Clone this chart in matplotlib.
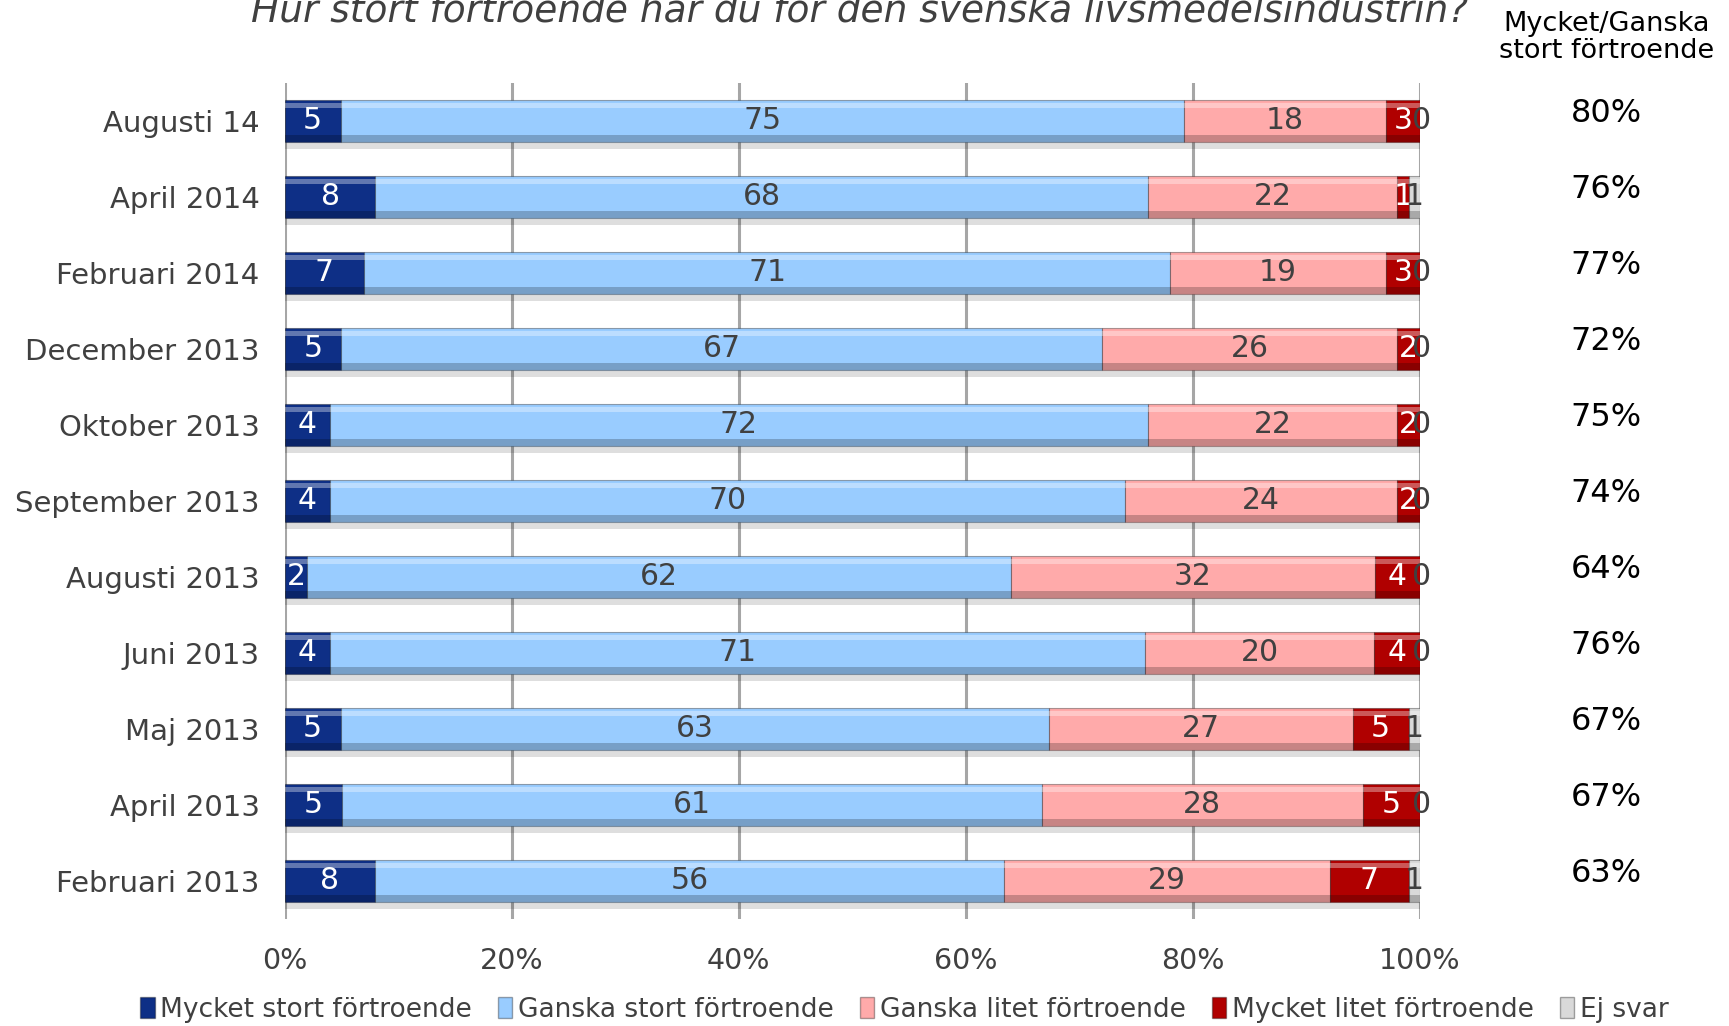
import numpy as np
import matplotlib
matplotlib.use('Agg')
import matplotlib.pyplot as plt
from matplotlib.patches import Patch

# Survey rows, top to bottom as shown
periods = ['Augusti 14', 'April 2014', 'Februari 2014', 'December 2013', 'Oktober 2013',
           'September 2013', 'Augusti 2013', 'Juni 2013', 'Maj 2013', 'April 2013',
           'Februari 2013']

mycket_stort = [5, 8, 7, 5, 4, 4, 2, 4, 5, 5, 8]
ganska_stort = [75, 68, 71, 67, 72, 70, 62, 71, 63, 61, 56]
ganska_litet = [18, 22, 19, 26, 22, 24, 32, 20, 27, 28, 29]
mycket_litet = [3, 1, 3, 2, 2, 2, 4, 4, 5, 5, 7]
ej_svar = [0, 1, 0, 0, 0, 0, 0, 0, 1, 0, 1]

totals = ['80%', '76%', '77%', '72%', '75%', '74%', '64%', '76%', '67%', '67%', '63%']

series_names = ['Mycket stort förtroende', 'Ganska stort förtroende',
                'Ganska litet förtroende', 'Mycket litet förtroende', 'Ej svar']
colors = ['#0E2F86', '#99CCFF', '#FFAAAA', '#B00000', '#D9D9D9']
label_colors = ['white', '#404040', '#404040', 'white', '#404040']
tick_labels = ['0%', '20%', '40%', '60%', '80%', '100%']

plt.rcParams['font.family'] = ['DejaVu Sans']

fig = plt.figure(figsize=(17.29, 10.26), dpi=100)
ax = fig.add_axes([0.1646, 0.1043, 0.6567, 0.815])

data = np.array([mycket_stort, ganska_stort, ganska_litet, mycket_litet, ej_svar], dtype=float)
row_sum = data.sum(axis=0)
shares = data / row_sum * 100
y = np.arange(len(periods))
h = 0.56

left = np.zeros(len(periods))
# drop shadow under each full bar
ax.barh(y + 0.09, np.full(len(periods), 100.0), height=h, color='#000000', alpha=0.13,
        zorder=1, linewidth=0)
for i in range(len(series_names)):
    w = shares[i]
    ax.barh(y, w, left=left, height=h, color=colors[i], zorder=2,
            edgecolor='#00000055', linewidth=0.8)
    # bevel: light band on top, darker band at bottom
    ax.barh(y - h * 0.36, w, left=left, height=h * 0.12, color='white', alpha=0.35,
            zorder=3, linewidth=0)
    ax.barh(y + h * 0.42, w, left=left, height=h * 0.16, color='black', alpha=0.22,
            zorder=3, linewidth=0)
    for j in range(len(periods)):
        cx = left[j] + w[j] / 2
        if w[j] == 0:
            cx = left[j] + 0.1
        ax.text(cx, y[j], str(int(data[i, j])), ha='center', va='center',
                fontsize=21.5, color=label_colors[i], zorder=5)
    left = left + w

ax.set_xlim(0, 100)
ax.set_ylim(len(periods) - 0.5, -0.5)
ax.set_yticks(y)
ax.set_yticklabels(periods, fontsize=21, color='#404040')
ax.set_xticks(np.arange(0, 101, 20))
ax.set_xticklabels(tick_labels, fontsize=20.5, color='#404040')
ax.tick_params(axis='y', length=0, pad=18)
ax.tick_params(axis='x', length=0, pad=20)
ax.xaxis.grid(True, color='#A6A6A6', linewidth=2.2, zorder=0)
ax.set_axisbelow(True)
for s in ax.spines.values():
    s.set_visible(False)

# right-hand summary column
fig.text(0.929, 0.963, 'Mycket/Ganska\nstort förtroende', ha='center', va='center',
         fontsize=19.5, color='black', linespacing=1.05)
for j, t in enumerate(totals):
    ax.text(1.0 + (0.929 - 0.8213) / 0.6567, y[j] - 0.1, t, transform=ax.get_yaxis_transform(),
            ha='center', va='center', fontsize=23, color='black')

fig.text(0.497, 1 - 22 / 1026, 'Hur stort förtroende har du för den svenska livsmedelsindustrin?',
         ha='center', va='baseline', fontsize=27, style='italic', color='#404040')

handles = [Patch(facecolor=c, edgecolor='#00000055') for c in colors]
fig.legend(handles, series_names, loc='center', bbox_to_anchor=(0.523, 0.016), ncol=5,
           frameon=False, fontsize=19, handlelength=0.55, handleheight=0.8,
           handletextpad=0.2, columnspacing=1.0, labelcolor='#404040')

fig.savefig('out.png', dpi=100)
